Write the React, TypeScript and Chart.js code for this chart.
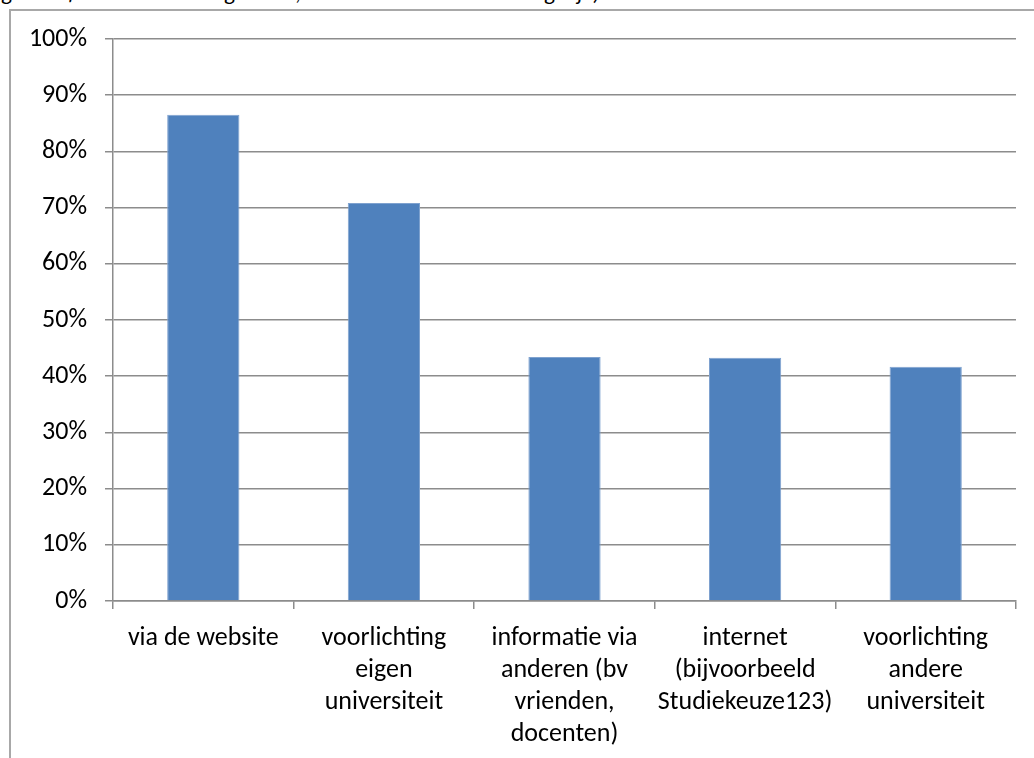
import React, { useEffect, useRef } from "react";
import { Chart, registerables } from "chart.js";

Chart.register(...registerables);

const categories: string[][] = [
  ["via de website"],
  ["voorlichting", "eigen", "universiteit"],
  ["informatie via", "anderen (bv", "vrienden,", "docenten)"],
  ["internet", "(bijvoorbeeld", "Studiekeuze123)"],
  ["voorlichting", "andere", "universiteit"],
];
const values: number[] = [86.5, 70.8, 43.4, 43.3, 41.7];
const yTicks: number[] = [0, 10, 20, 30, 40, 50, 60, 70, 80, 90, 100];
const titleText = "geen informatie hebben gezocht; meerdere antwoorden mogelijk)";

const FONT = "Carlito, Lato, 'Open Sans', sans-serif";

export default function App() {
  const ref = useRef<HTMLCanvasElement | null>(null);
  useEffect(() => {
    if (!ref.current) return;
    const chart = new Chart(ref.current, {
      type: "bar",
      data: {
        labels: categories,
        datasets: [
          {
            data: values,
            backgroundColor: "#4F81BD",
            borderColor: "#7FA2CF",
            borderWidth: 1,
            barPercentage: 0.4,
            categoryPercentage: 1,
          },
        ],
      },
      options: {
        animation: false,
        responsive: false,
        maintainAspectRatio: false,
        layout: { padding: { left: 0, right: 18, top: 39, bottom: 0 } },
        plugins: { legend: { display: false }, tooltip: { enabled: false } },
        scales: {
          x: {
            grid: {
              offset: true,
              drawOnChartArea: false,
              drawTicks: true,
              tickLength: 8,
              color: "#8c8c8c",
              lineWidth: 1.5,
            },
            border: { color: "#8c8c8c", width: 1.5 },
            ticks: {
              maxRotation: 0,
              minRotation: 0,
              autoSkip: false,
              color: "#000",
              padding: 13,
              font: { family: FONT, size: 26, lineHeight: 32 / 26 },
            },
            afterFit: (s: any) => {
              s.height = 157;
            },
          },
          y: {
            min: 0,
            max: 100,
            afterBuildTicks: (s: any) => {
              s.ticks = yTicks.map((v) => ({ value: v }));
            },
            grid: {
              color: "#8c8c8c",
              lineWidth: 1.5,
              tickLength: 8,
              drawTicks: true,
            },
            border: { color: "#8c8c8c", width: 1.5 },
            ticks: {
              color: "#000",
              padding: 18,
              font: { family: FONT, size: 26 },
              callback: (v: any) => v + "%",
            },
            afterFit: (s: any) => {
              s.width = 113;
            },
          },
        },
      },
    });
    return () => chart.destroy();
  }, []);

  return (
    <div
      style={{
        position: "fixed",
        left: 0,
        top: 0,
        width: 1034,
        height: 758,
        overflow: "hidden",
        background: "#fff",
      }}
    >
      <div
        style={{
          position: "absolute",
          left: 2,
          top: -20,
          fontFamily: FONT,
          fontStyle: "italic",
          fontSize: 22.5,
          lineHeight: "26px",
          whiteSpace: "nowrap",
          color: "#000",
        }}
      >
        {titleText}
      </div>
      <div
        style={{
          position: "absolute",
          left: 9,
          top: 9,
          width: 1100,
          height: 800,
          border: "2px solid #a8a8a8",
          boxSizing: "border-box",
        }}
      />
      <canvas
        ref={ref}
        width={1034}
        height={758}
        style={{ position: "absolute", left: 0, top: 0, width: 1034, height: 758 }}
      />
    </div>
  );
}
